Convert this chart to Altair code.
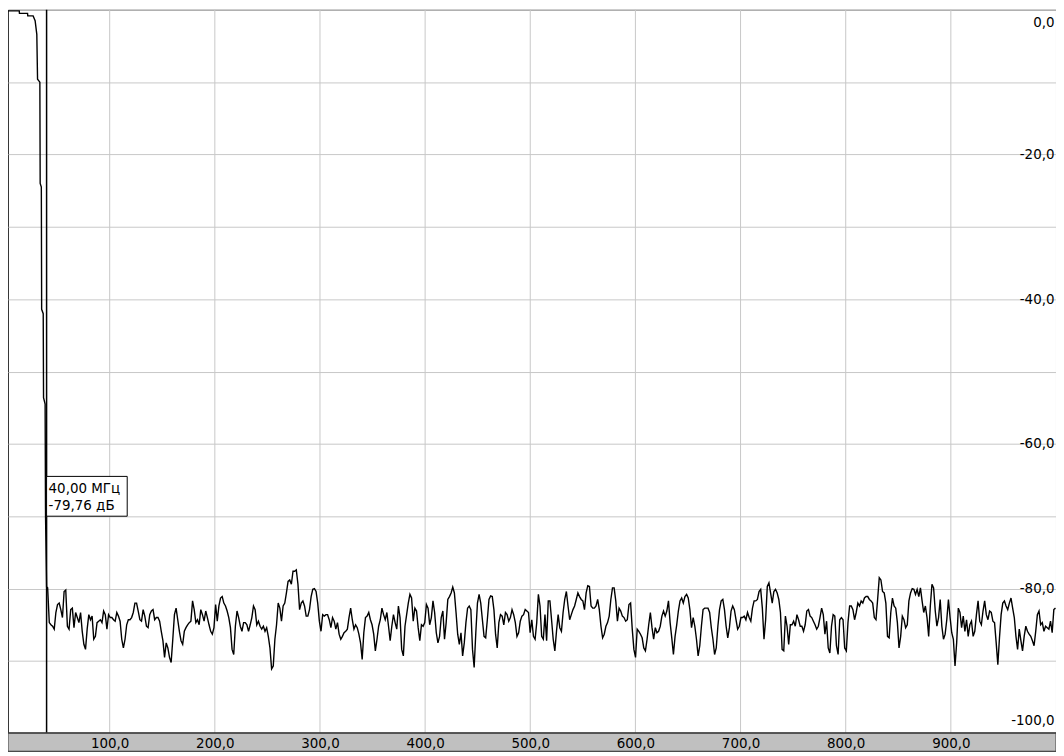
import altair as alt
import pandas as pd
import numpy as np

# ---- data ----
ROLL_FREQ = [3.3, 14.0, 14.2, 21.9, 22.1, 27.2, 29.1, 30.7, 31.4, 33.6, 33.9,
             35.0, 35.3, 36.8, 37.1, 38.6, 39.0, 40.0]
ROLL_DB = [-0.15, -0.15, -0.5, -0.5, -0.85, -0.85, -1.5, -3.4, -9.6, -10.0, -24.0,
           -24.5, -41.4, -42.0, -53.6, -54.5, -70.0, -79.76]

NOISE_START = 41.0
NOISE_STOP = 999.5

NOISE_A = [-79.9, -84.7, -85.0, -85.2, -85.6, -83.3, -82.2, -82.0, -82.9, -84.0,
           -80.4, -80.2, -85.2, -85.6, -82.9, -82.7, -85.4, -83.3, -84.0, -84.7,
           -83.3, -85.9, -87.7, -88.4, -85.6, -83.6, -84.3, -83.8, -87.0, -86.6,
           -84.7, -84.5, -84.3, -84.7, -83.1, -83.6, -85.6, -83.6, -84.0, -84.0,
           -84.3, -84.5, -83.3, -83.8, -84.5, -87.0, -88.2, -87.0, -85.0, -84.3,
           -84.3, -84.0, -83.3, -82.0, -82.0, -83.1, -84.3, -84.5, -82.9, -83.8,
           -85.2, -85.4, -83.6, -83.1, -82.9, -84.3, -84.0, -84.0, -84.5, -85.9,
           -87.2, -89.5, -87.5, -88.2, -89.5, -90.2, -87.0, -83.6, -82.7, -84.3,
           -85.9, -87.2, -87.7, -85.9, -85.4, -85.0, -84.7, -84.5, -81.7, -82.9,
           -84.7, -84.3, -85.0, -82.9, -83.6, -84.5, -83.1, -84.0, -85.0, -85.9,
           -86.3, -85.4, -82.2, -84.5, -82.4, -81.3, -81.1, -82.0, -82.4, -83.1,
           -84.0, -85.4, -88.4, -89.1, -85.2, -83.1, -84.0, -85.2, -85.9, -84.7,
           -84.7, -85.0, -85.9, -85.0, -84.0, -82.4, -82.9, -85.0, -84.5, -85.2,
           -85.6, -85.2, -85.9, -85.4, -86.6, -88.2, -91.1, -90.7, -87.0, -85.0,
           -82.0, -82.7, -84.5, -82.4, -82.0, -80.6, -79.0, -78.8, -79.4, -77.6]

NOISE_B = [-77.6, -77.4, -79.4, -82.9, -82.0, -81.7, -82.4, -83.8, -83.8, -82.9,
           -81.1, -80.1, -80.0, -80.4, -82.0, -84.5, -85.9, -83.6, -83.8, -83.6,
           -83.6, -84.3, -85.4, -84.0, -84.5, -85.6, -84.7, -86.3, -87.0, -86.6,
           -86.1, -85.9, -85.6, -84.0, -82.7, -84.3, -85.6, -85.0, -85.4, -86.3,
           -87.5, -89.8, -86.1, -84.0, -83.8, -83.3, -84.3, -85.0, -86.3, -88.6,
           -87.0, -85.2, -84.3, -82.7, -83.6, -84.3, -83.3, -85.2, -87.2, -85.2,
           -83.6, -84.7, -85.6, -82.4, -84.0, -88.4, -89.3, -85.2, -83.6, -82.0,
           -80.8, -81.3, -84.5, -82.7, -83.1, -85.4, -87.2, -85.0, -85.2, -84.7,
           -82.2, -82.7, -85.0, -84.0, -81.7, -83.3, -86.1, -87.5, -86.6, -84.0,
           -83.1, -87.0, -84.7, -81.5, -81.1, -80.6, -79.8, -80.6, -83.3, -86.3,
           -87.7, -86.1, -89.3, -87.5, -84.7, -82.7, -82.4, -82.9, -88.4, -90.9,
           -86.1, -82.0, -80.8, -82.0, -84.3, -86.6, -86.8, -84.3, -81.5, -81.0,
           -81.1, -82.9, -86.3, -88.2, -84.7, -83.6, -83.8, -85.0, -83.3, -83.6,
           -84.5, -84.0, -82.9, -83.6, -84.7, -86.6, -86.1, -84.5, -83.8, -83.6,
           -82.9, -83.1, -83.3, -86.1, -84.3, -86.6, -87.0, -84.7, -80.8, -82.4,
           -86.6, -87.0, -83.6, -87.2]

NOISE_C = [-81.7, -81.7, -84.3, -87.0, -88.6, -85.9, -83.6, -85.4, -85.9, -83.3,
           -81.5, -80.4, -82.4, -84.3, -83.6, -82.9, -82.4, -81.5, -80.6, -81.1,
           -81.5, -81.7, -82.9, -80.6, -79.6, -79.7, -82.4, -82.7, -82.7, -82.4,
           -81.5, -82.9, -85.2, -86.8, -86.3, -85.2, -84.7, -83.8, -81.5, -79.9,
           -79.9, -81.7, -84.5, -82.7, -83.1, -83.8, -84.0, -84.5, -84.3, -82.2,
           -82.0, -85.6, -88.4, -89.5, -85.6, -85.9, -86.3, -86.8, -88.2, -88.6,
           -87.0, -85.0, -83.3, -85.4, -87.0, -85.4, -86.1, -85.9, -85.2, -83.8,
           -83.1, -83.8, -83.1, -81.7, -84.7, -86.8, -89.1, -86.6, -85.0, -83.1,
           -81.7, -81.3, -82.0, -81.1, -80.8, -81.3, -82.9, -85.4, -84.0, -85.2,
           -87.0, -89.3, -87.9, -85.2, -82.9, -82.7, -82.7, -82.7, -83.3, -85.4,
           -87.0, -89.1, -88.2, -85.2, -82.9, -81.7, -81.5, -82.9, -85.2, -86.8,
           -85.4, -83.1, -82.4, -82.9, -84.3, -85.6, -85.2, -84.0, -84.0, -83.8,
           -84.3, -83.3, -84.0, -84.5, -82.7, -81.7, -81.7, -81.5, -80.4, -80.1,
           -82.7, -87.0, -84.3, -79.7, -79.2, -80.6, -82.0, -80.4, -80.1, -80.6,
           -81.5, -83.3, -88.4, -88.6, -83.8, -85.2, -87.7, -85.0, -85.0, -84.5,
           -85.2, -83.6, -84.3, -85.2]

NOISE_D = [-85.2, -85.9, -85.0, -83.1, -82.9, -83.8, -84.0, -84.5, -85.0, -85.6,
           -85.2, -84.0, -82.7, -83.6, -86.3, -84.5, -88.2, -88.9, -85.2, -83.6,
           -83.8, -87.9, -89.1, -84.3, -84.0, -84.3, -88.2, -88.6, -84.7, -82.4,
           -82.4, -82.9, -84.3, -83.3, -82.0, -82.4, -81.7, -82.0, -81.3, -81.1,
           -81.1, -81.5, -81.7, -82.0, -84.0, -84.3, -81.5, -78.5, -78.8, -80.4,
           -80.6, -82.0, -86.6, -86.8, -83.3, -81.3, -82.4, -82.7, -84.7, -88.2,
           -86.6, -83.8, -84.3, -85.4, -85.0, -81.7, -80.6, -80.0, -80.1, -80.8,
           -80.1, -81.1, -79.9, -81.7, -83.3, -82.4, -84.0, -86.6, -82.4, -79.4,
           -79.9, -83.1, -85.2, -84.0, -81.5, -85.2, -87.0, -86.3, -84.3, -81.5,
           -84.0, -86.1, -87.0, -90.7, -87.5, -82.7, -83.3, -85.4, -83.8, -85.9,
           -84.3, -86.6, -85.0, -84.5, -86.6, -85.9, -83.6, -81.7, -84.5, -85.0,
           -83.1, -81.7, -83.6, -84.3, -83.1, -83.3, -84.5, -84.7, -87.5, -90.5,
           -86.8, -83.6, -82.0, -81.7, -82.4, -82.9, -82.0, -81.3, -82.7, -84.0,
           -86.6, -88.4, -85.6, -87.2, -88.6, -86.6, -85.2, -85.9, -86.3, -86.6,
           -87.2, -87.9, -85.9, -83.6, -83.1, -85.0, -84.7, -85.9, -85.2, -85.4,
           -85.6, -84.5, -86.1, -82.9, -82.7]

X_TICKS = [100, 200, 300, 400, 500, 600, 700, 800, 900]
Y_GRID = [-100, -90, -80, -70, -60, -50, -40, -30, -20, -10, 0]
X_DOMAIN = [3.3, 1000]
Y_DOMAIN = [-100, 0]

MARKER_FREQ = 40.0
MARKER_DB = -79.76

# ---- build tables ----
noise = NOISE_A + NOISE_B + NOISE_C + NOISE_D
freq = ROLL_FREQ + list(np.linspace(NOISE_START, NOISE_STOP, len(noise)))
df = pd.DataFrame({"f": freq, "db": ROLL_DB + noise})
grid_df = pd.DataFrame({"f": X_TICKS})
marker_df = pd.DataFrame({
    "f": [MARKER_FREQ],
    "db": [MARKER_DB],
    "l1": [f"{MARKER_FREQ:.2f} МГц".replace(".", ",")],
    "l2": [f"{MARKER_DB:.2f} дБ".replace(".", ",")],
})

W, H = 1053, 727
BAR_H = 18
FONT = "DejaVu Sans"
FS = 13.5

xs = alt.Scale(domain=X_DOMAIN, nice=False, zero=False)
ys = alt.Scale(domain=Y_DOMAIN, nice=False, zero=False)

lbl = "(datum.value < 0 ? '-' : '') + replace(format(abs(datum.value), '.1f'), '.', ',')"

x_axis = alt.Axis(values=X_TICKS, grid=False, ticks=False, tickSize=0, domain=False,
                  labelExpr=lbl, labelFont=FONT, labelFontSize=FS, labelColor="#000000",
                  labelPadding=3, labelFlush=False, labelOverlap=False, title=None, zindex=1)
y_axis = alt.Axis(orient="right", values=Y_GRID, grid=True, gridColor="#c8c8c8", gridWidth=1,
                  ticks=False, tickSize=0, domain=False,
                  labelExpr=f"datum.value % 20 == 0 ? {lbl} : ''",
                  labelAlign="right", labelPadding=-2,
                  labelFont=FONT, labelFontSize=FS, labelColor="#000000",
                  labelFlush=True, labelFlushOffset=-6, labelOverlap=False, title=None)

base = alt.Chart(df)

bar = alt.Chart(grid_df).mark_rect(fill="#c0c0c0", stroke="#404040", strokeWidth=1).encode(
    x=alt.value(0), x2=alt.value(W), y=alt.value(H), y2=alt.value(H + BAR_H))

vgrid = alt.Chart(grid_df).mark_rule(color="#c8c8c8", strokeWidth=1).encode(
    x=alt.X("f:Q", scale=xs, axis=x_axis))

line = base.mark_line(color="#000000", strokeWidth=1.4, clip=True).encode(
    x=alt.X("f:Q", scale=xs, axis=x_axis),
    y=alt.Y("db:Q", scale=ys, axis=y_axis),
)

mrule = alt.Chart(marker_df).mark_rule(color="#000000", strokeWidth=1.5).encode(
    x=alt.X("f:Q", scale=xs))

box = alt.Chart(marker_df).mark_rect(fill="white", stroke="#000000", strokeWidth=1,
                                     x2Offset=81, yOffset=-111, y2Offset=-71).encode(
    x=alt.X("f:Q", scale=xs), x2="f:Q",
    y=alt.Y("db:Q", scale=ys), y2="db:Q")

t1 = alt.Chart(marker_df).mark_text(align="left", baseline="alphabetic", dx=2, dy=-94,
                                    font=FONT, fontSize=FS, color="#000000").encode(
    x=alt.X("f:Q", scale=xs), y=alt.Y("db:Q", scale=ys), text="l1:N")
t2 = alt.Chart(marker_df).mark_text(align="left", baseline="alphabetic", dx=2, dy=-77,
                                    font=FONT, fontSize=FS, color="#000000").encode(
    x=alt.X("f:Q", scale=xs), y=alt.Y("db:Q", scale=ys), text="l2:N")

chart = alt.layer(vgrid, line, mrule, box, t1, t2, bar).properties(
    width=W, height=H, background="white",
    padding={"left": 0, "top": 0, "right": 0, "bottom": BAR_H + 2},
    autosize=alt.AutoSizeParams(type="none"),
).configure_view(stroke="#333333", strokeWidth=1)

chart.save("out.html", embed_options={"renderer": "svg", "actions": False})
